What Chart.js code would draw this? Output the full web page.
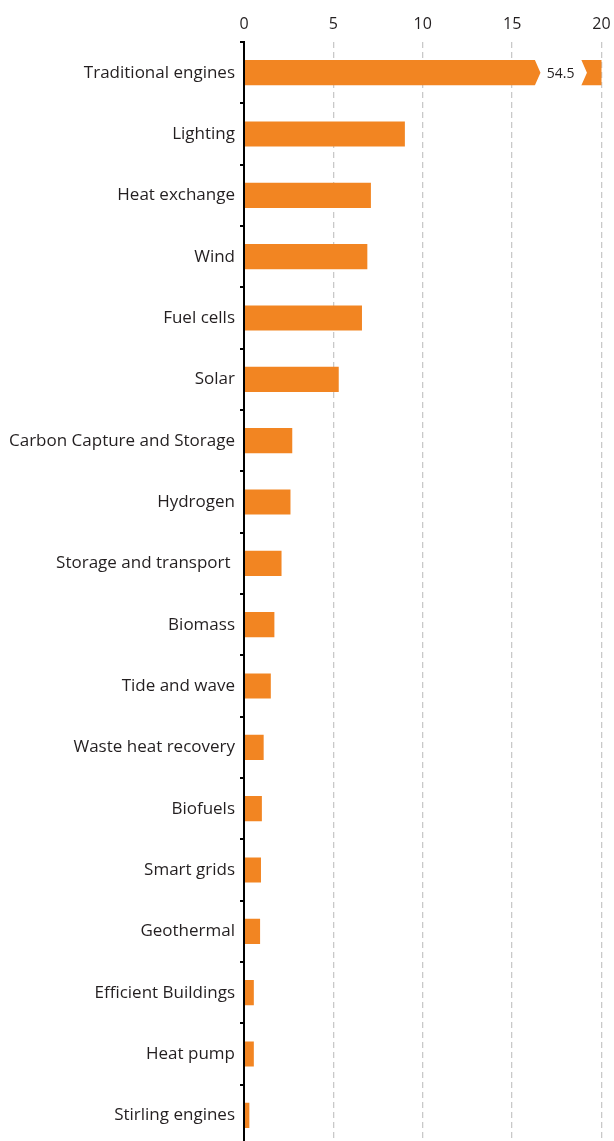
<!DOCTYPE html>
<html>
<head>
<meta charset="utf-8">
<script src="https://cdn.jsdelivr.net/npm/chart.js@4"></script>
<style>
  html, body { margin: 0; padding: 0; background: #fff; overflow: hidden; }
  canvas { display: block; }
</style>
</head>
<body>
<canvas id="c" width="614" height="1146" style="width:614px;height:1146px"></canvas>
<script>
const categories = [
  "Traditional engines", "Lighting", "Heat exchange", "Wind", "Fuel cells", "Solar",
  "Carbon Capture and Storage", "Hydrogen", "Storage and transport ", "Biomass",
  "Tide and wave", "Waste heat recovery", "Biofuels", "Smart grids", "Geothermal",
  "Efficient Buildings", "Heat pump", "Stirling engines"
];
const values = [54.5, 9.0, 7.1, 6.9, 6.6, 5.3, 2.7, 2.6, 2.1, 1.7, 1.5, 1.1, 1.0, 0.95, 0.9, 0.55, 0.55, 0.3];
const xTicks = [0, 5, 10, 15, 20];
const xMax = 20;

const FONT = "'Open Sans', 'Noto Sans', sans-serif";
const TEXT = '#231f20';
const BAR = '#F28522';

const breakPlugin = {
  id: 'breakPlugin',
  afterDatasetsDraw(chart) {
    const ctx = chart.ctx;
    const xs = chart.scales.x;
    const meta = chart.getDatasetMeta(0);
    meta.data.forEach((bar, i) => {
      const v = values[i];
      if (v <= xMax) return;
      const p = bar.getProps(['y', 'height'], true);
      const top = p.y - p.height / 2 - 1;
      const bot = p.y + p.height / 2 + 1;
      const a = xs.getPixelForValue(16.25);
      const b = xs.getPixelForValue(18.85);
      const d = 6;
      ctx.save();
      ctx.fillStyle = '#ffffff';
      ctx.beginPath();
      ctx.moveTo(a, top);
      ctx.lineTo(a + d, p.y);
      ctx.lineTo(a, bot);
      ctx.lineTo(b, bot);
      ctx.lineTo(b + d, p.y);
      ctx.lineTo(b, top);
      ctx.closePath();
      ctx.fill();
      ctx.fillStyle = TEXT;
      ctx.font = "14px " + FONT;
      ctx.textAlign = 'center';
      ctx.textBaseline = 'middle';
      ctx.fillText(String(v), (a + d + b) / 2, p.y + 1);
      ctx.restore();
    });
  }
};

new Chart(document.getElementById('c'), {
  type: 'bar',
  data: {
    labels: categories,
    datasets: [{
      data: values,
      backgroundColor: BAR,
      borderWidth: 0,
      barPercentage: 0.41,
      categoryPercentage: 1.0
    }]
  },
  options: {
    indexAxis: 'y',
    responsive: false,
    maintainAspectRatio: false,
    animation: false,
    layout: { padding: { left: 0, right: 12.5, top: 0, bottom: 0 } },
    plugins: { legend: { display: false }, tooltip: { enabled: false } },
    scales: {
      x: {
        position: 'top',
        min: 0,
        max: xMax,
        afterBuildTicks: s => { s.ticks = xTicks.map(v => ({ value: v })); },
        afterFit: s => { s.height = 42; s.paddingLeft = 0; s.paddingRight = 0; },
        grid: {
          drawTicks: false,
          color: ctx => ctx.tick && ctx.tick.value === 0 ? 'rgba(0,0,0,0)' : '#c9c9c9',
          lineWidth: 1.3
        },
        border: { display: false, dash: [6, 4] },
        ticks: {
          color: TEXT,
          font: { family: FONT, size: 16 },
          padding: 8
        }
      },
      y: {
        afterFit: s => { s.width = 244; s.paddingTop = 0; s.paddingBottom = 0; },
        grid: {
          drawOnChartArea: false,
          drawTicks: true,
          tickLength: 4,
          color: '#000',
          lineWidth: 2
        },
        border: { display: true, color: '#000', width: 2, z: 1 },
        ticks: {
          color: TEXT,
          font: { family: FONT, size: 17 },
          padding: 5,
          autoSkip: false
        }
      }
    }
  },
  plugins: [breakPlugin]
});
</script>
</body>
</html>
